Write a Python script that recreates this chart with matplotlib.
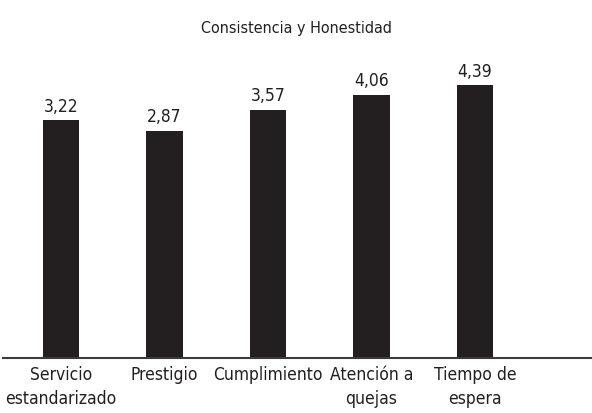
import numpy as np
import matplotlib
matplotlib.use('Agg')
import matplotlib.pyplot as plt
from matplotlib import font_manager

# look for a narrow / condensed face among installed fonts
narrow = None
for f in font_manager.fontManager.ttflist:
    name = (f.name + ' ' + f.fname).lower()
    if ('condensed' in name or 'narrow' in name or f.stretch in ('condensed', 'semi-condensed')) \
            and 'bold' not in f.fname.lower() and 'oblique' not in f.fname.lower() and 'italic' not in f.fname.lower():
        narrow = f
        break

categories = ['Servicio\nestandarizado', 'Prestigio', 'Cumplimiento', 'Atención a\nquejas', 'Tiempo de\nespera']
values = [3.22, 2.87, 3.57, 4.06, 4.39]
value_labels = ['3,22', '2,87', '3,57', '4,06', '4,39']
title = 'Consistencia y Honestidad'

ink = '#231f20'
y_min, y_max = -4.74, 7.27

if narrow is not None:
    fp = font_manager.FontProperties(fname=narrow.fname)
else:
    fp = font_manager.FontProperties(family='DejaVu Sans')

fig = plt.figure(figsize=(5.92, 4.14), dpi=100)
ax = fig.add_axes([3/592, 55/414, 589/592, 359/414])

x = np.arange(len(values))
vals = np.array(values)
ax.bar(x, vals - y_min, bottom=y_min, width=0.35, color=ink)

for xi, v, lab in zip(x, vals, value_labels):
    ax.annotate(lab, (xi, v), xytext=(0, 4), textcoords='offset points',
                ha='center', va='bottom', fontproperties=fp, fontsize=12.5, color=ink)

ax.set_xlim(-0.56, 5.13)
ax.set_ylim(y_min, y_max)
ax.set_xticks(x)
ax.set_xticklabels(categories, fontproperties=fp, fontsize=12.5, color=ink, linespacing=1.45)
ax.tick_params(axis='x', length=0, pad=5)
ax.set_yticks([])
for s in ['top', 'right', 'left']:
    ax.spines[s].set_visible(False)
ax.spines['bottom'].set_color('#3a3a3a')
ax.spines['bottom'].set_linewidth(1.5)

fig.text(0.5, 1 - 28/414, title, ha='center', va='center', fontproperties=fp, fontsize=11.5, color=ink)

fig.savefig('out.png', dpi=100)
